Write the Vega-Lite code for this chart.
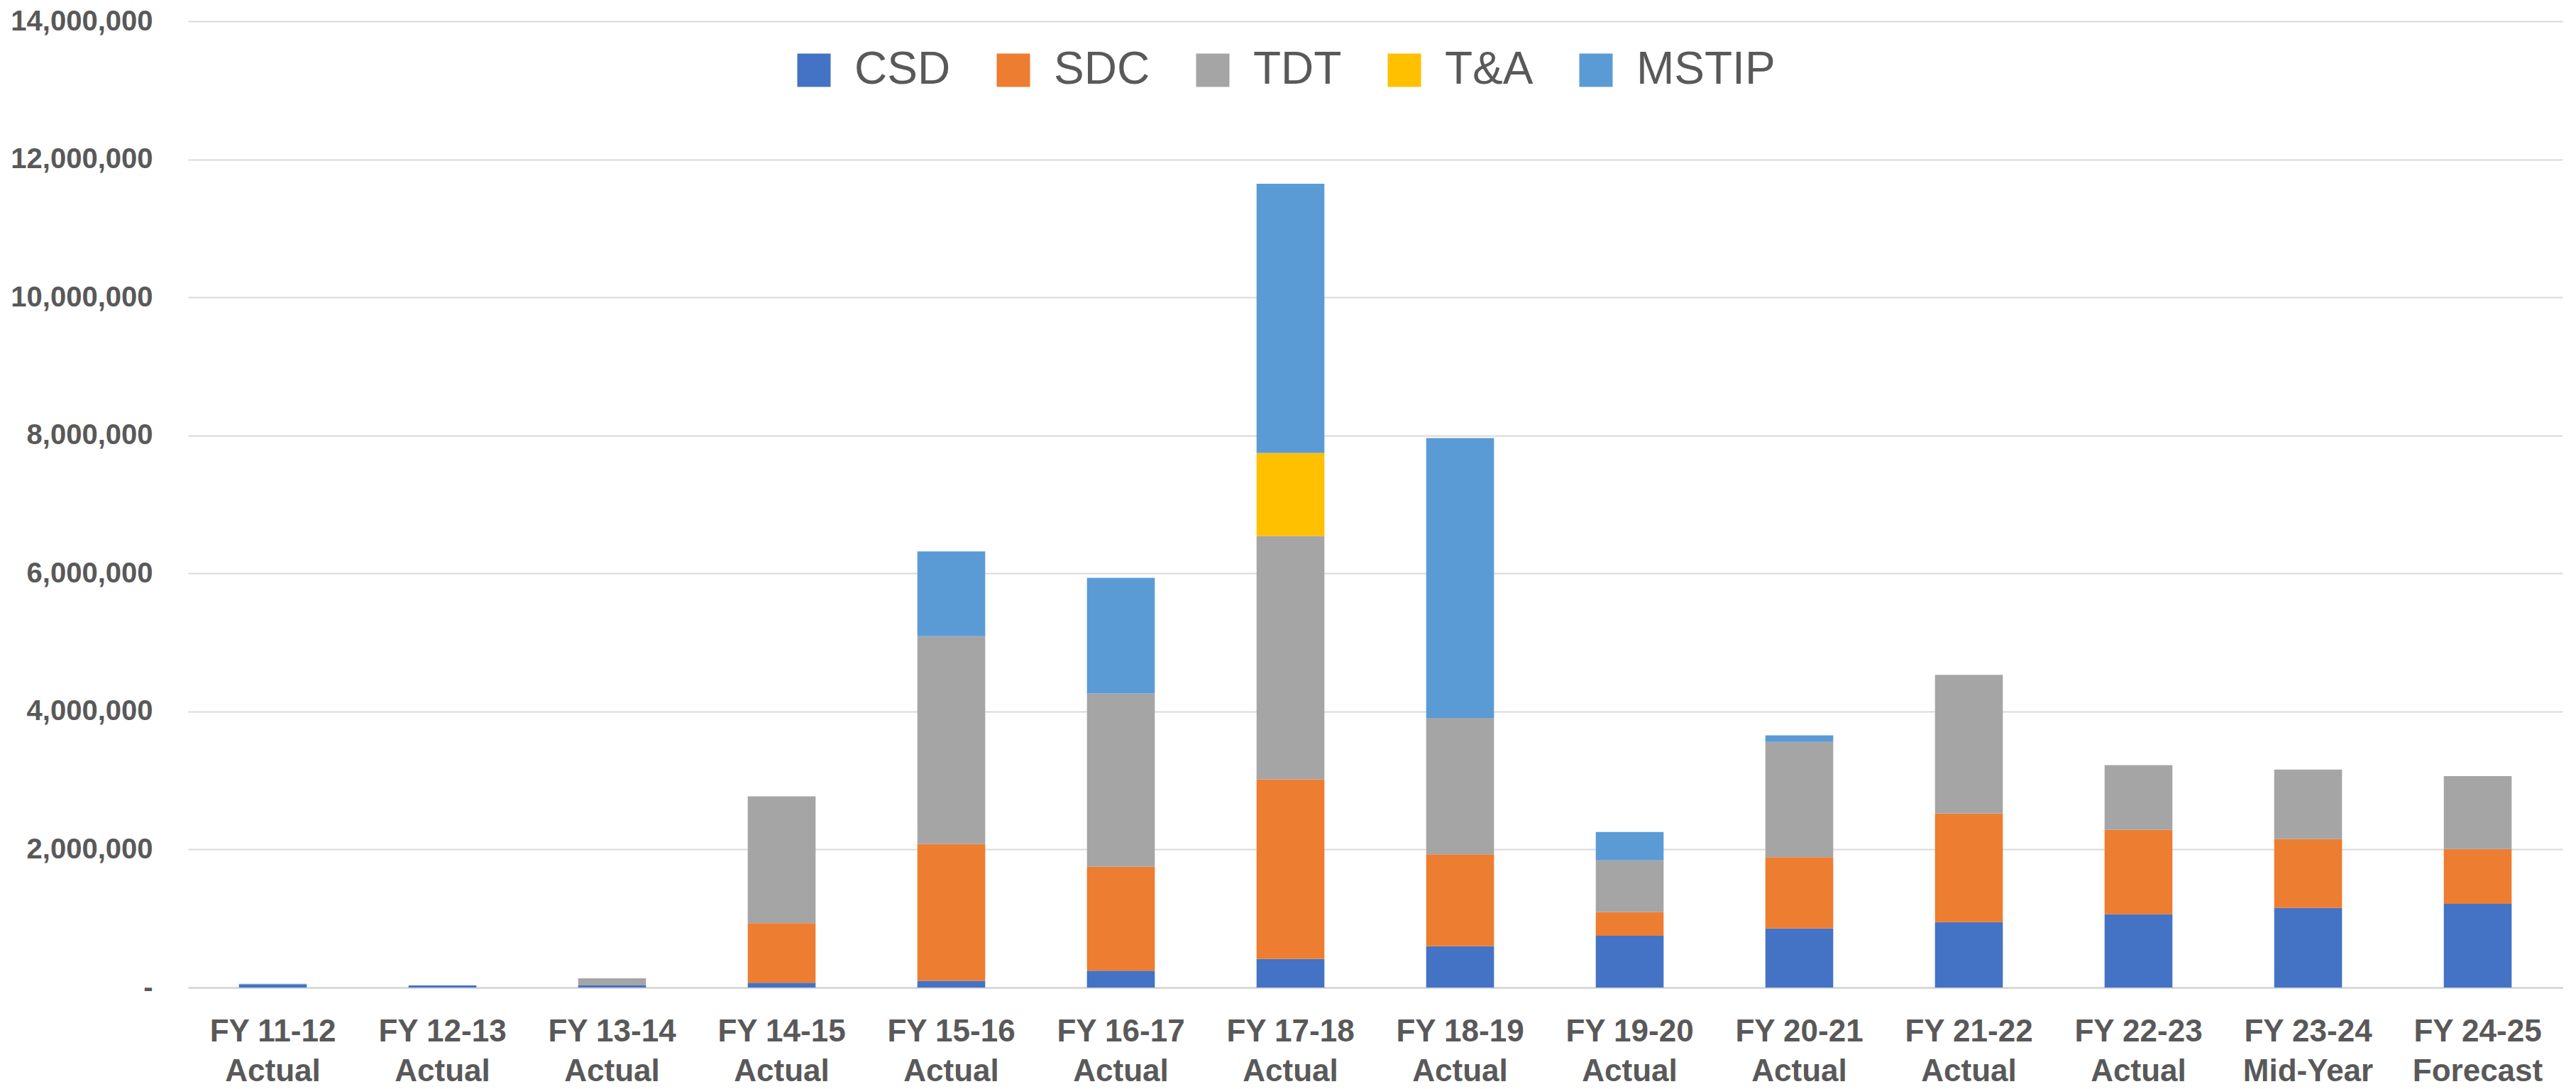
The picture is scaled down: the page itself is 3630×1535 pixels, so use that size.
{
  "$schema": "https://vega.github.io/schema/vega-lite/v6.json",
  "width": 3346,
  "height": 1362,
  "autosize": {"type": "none"},
  "padding": {"left": 265, "top": 30, "right": 19, "bottom": 143},
  "background": "white",
  "config": {"view": {"stroke": null}, "font": "Liberation Sans"},
  "data": {
    "values": [
      {"year": "FY 11-12\nActual", "series": "CSD", "amount": 45000},
      {"year": "FY 11-12\nActual", "series": "MSTIP", "amount": 8000},
      {"year": "FY 12-13\nActual", "series": "CSD", "amount": 31000},
      {"year": "FY 13-14\nActual", "series": "CSD", "amount": 31000},
      {"year": "FY 13-14\nActual", "series": "TDT", "amount": 103000},
      {"year": "FY 14-15\nActual", "series": "CSD", "amount": 69000},
      {"year": "FY 14-15\nActual", "series": "SDC", "amount": 864000},
      {"year": "FY 14-15\nActual", "series": "TDT", "amount": 1837000},
      {"year": "FY 15-16\nActual", "series": "CSD", "amount": 98000},
      {"year": "FY 15-16\nActual", "series": "SDC", "amount": 1982000},
      {"year": "FY 15-16\nActual", "series": "TDT", "amount": 3010000},
      {"year": "FY 15-16\nActual", "series": "MSTIP", "amount": 1230000},
      {"year": "FY 16-17\nActual", "series": "CSD", "amount": 245000},
      {"year": "FY 16-17\nActual", "series": "SDC", "amount": 1505000},
      {"year": "FY 16-17\nActual", "series": "TDT", "amount": 2510000},
      {"year": "FY 16-17\nActual", "series": "MSTIP", "amount": 1675000},
      {"year": "FY 17-18\nActual", "series": "CSD", "amount": 414000},
      {"year": "FY 17-18\nActual", "series": "SDC", "amount": 2603000},
      {"year": "FY 17-18\nActual", "series": "TDT", "amount": 3525000},
      {"year": "FY 17-18\nActual", "series": "T&A", "amount": 1204000},
      {"year": "FY 17-18\nActual", "series": "MSTIP", "amount": 3900000},
      {"year": "FY 18-19\nActual", "series": "CSD", "amount": 599000},
      {"year": "FY 18-19\nActual", "series": "SDC", "amount": 1331000},
      {"year": "FY 18-19\nActual", "series": "TDT", "amount": 1977000},
      {"year": "FY 18-19\nActual", "series": "MSTIP", "amount": 4053000},
      {"year": "FY 19-20\nActual", "series": "CSD", "amount": 750000},
      {"year": "FY 19-20\nActual", "series": "SDC", "amount": 342000},
      {"year": "FY 19-20\nActual", "series": "TDT", "amount": 750000},
      {"year": "FY 19-20\nActual", "series": "MSTIP", "amount": 411000},
      {"year": "FY 20-21\nActual", "series": "CSD", "amount": 856000},
      {"year": "FY 20-21\nActual", "series": "SDC", "amount": 1034000},
      {"year": "FY 20-21\nActual", "series": "TDT", "amount": 1668000},
      {"year": "FY 20-21\nActual", "series": "MSTIP", "amount": 96000},
      {"year": "FY 21-22\nActual", "series": "CSD", "amount": 949000},
      {"year": "FY 21-22\nActual", "series": "SDC", "amount": 1571000},
      {"year": "FY 21-22\nActual", "series": "TDT", "amount": 2011000},
      {"year": "FY 22-23\nActual", "series": "CSD", "amount": 1062000},
      {"year": "FY 22-23\nActual", "series": "SDC", "amount": 1222000},
      {"year": "FY 22-23\nActual", "series": "TDT", "amount": 939000},
      {"year": "FY 23-24\nMid-Year", "series": "CSD", "amount": 1154000},
      {"year": "FY 23-24\nMid-Year", "series": "SDC", "amount": 997000},
      {"year": "FY 23-24\nMid-Year", "series": "TDT", "amount": 1007000},
      {"year": "FY 24-25\nForecast", "series": "CSD", "amount": 1212000},
      {"year": "FY 24-25\nForecast", "series": "SDC", "amount": 795000},
      {"year": "FY 24-25\nForecast", "series": "TDT", "amount": 1055000}
    ]
  },
  "transform": [
    {"calculate": "indexof(['CSD','SDC','TDT','T&A','MSTIP'], datum.series)", "as": "stackRank"}
  ],
  "mark": {"type": "bar"},
  "encoding": {
    "x": {
      "field": "year",
      "type": "nominal",
      "sort": null,
      "scale": {"paddingInner": 0.6, "paddingOuter": 0.3},
      "axis": {
        "title": null,
        "labelExpr": "split(datum.label, '\\n')",
        "labelAngle": 0,
        "labelLimit": 0,
        "labelFont": "Liberation Sans",
        "labelFontSize": 44,
        "labelFontWeight": "bold",
        "labelColor": "#595959",
        "labelLineHeight": 56,
        "labelPadding": 40,
        "labelBaseline": "top",
        "ticks": false,
        "domainColor": "#d9d9d9",
        "domainWidth": 3
      }
    },
    "y": {
      "field": "amount",
      "type": "quantitative",
      "stack": "zero",
      "scale": {"domain": [0, 14000000], "nice": false},
      "axis": {
        "title": null,
        "values": [0, 2000000, 4000000, 6000000, 8000000, 10000000, 12000000, 14000000],
        "labelExpr": "datum.value == 0 ? '-' : format(datum.value, ',')",
        "labelLimit": 0,
        "gridColor": "#d9d9d9",
        "gridWidth": 2,
        "domain": false,
        "ticks": false,
        "labelPadding": 50,
        "labelFont": "Liberation Sans",
        "labelFontSize": 40,
        "labelFontWeight": "bold",
        "labelColor": "#595959"
      }
    },
    "color": {
      "field": "series",
      "type": "nominal",
      "scale": {
        "domain": ["CSD", "SDC", "TDT", "T&A", "MSTIP"],
        "range": ["#4472C4", "#ED7D31", "#A5A5A5", "#FFC000", "#5B9BD5"]
      },
      "legend": {
        "orient": "none",
        "legendX": 850,
        "legendY": 37,
        "direction": "horizontal",
        "columns": 5,
        "title": null,
        "symbolType": "square",
        "symbolSize": 2209,
        "symbolStrokeWidth": 0,
        "labelFont": "Liberation Sans",
        "labelFontSize": 64,
        "labelColor": "#595959",
        "labelOffset": 25,
        "columnPadding": 56,
        "padding": 0,
        "labelLimit": 0
      }
    },
    "order": {"field": "stackRank", "type": "quantitative", "sort": "ascending"}
  }
}
